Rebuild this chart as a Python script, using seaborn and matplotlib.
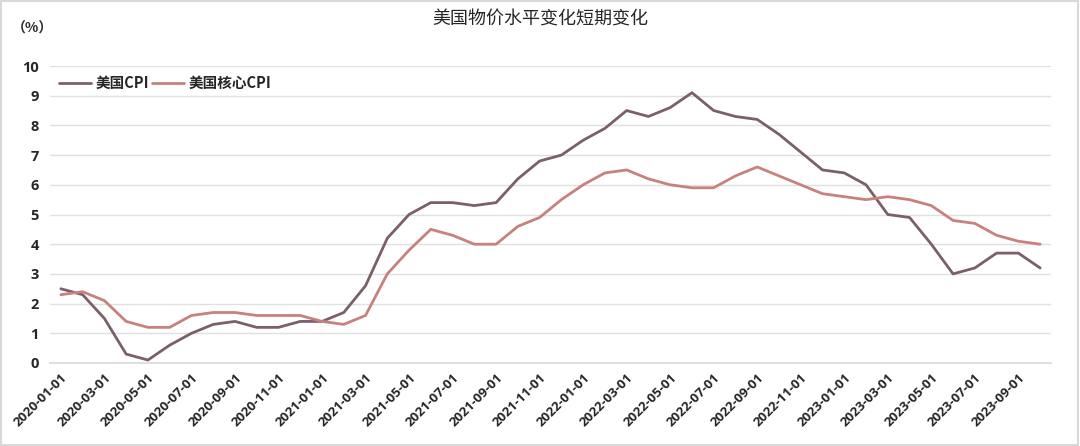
import matplotlib
matplotlib.use("Agg")
import matplotlib.pyplot as plt
import seaborn as sns
import pandas as pd
import numpy as np
from matplotlib.patches import Rectangle

dates = pd.date_range("2020-01-01", "2023-10-01", freq="MS").strftime("%Y-%m-%d").tolist()
cpi = [2.5, 2.3, 1.5, 0.3, 0.1, 0.6, 1.0, 1.3, 1.4, 1.2, 1.2, 1.4,
       1.4, 1.7, 2.6, 4.2, 5.0, 5.4, 5.4, 5.3, 5.4, 6.2, 6.8, 7.0,
       7.5, 7.9, 8.5, 8.3, 8.6, 9.1, 8.5, 8.3, 8.2, 7.7, 7.1, 6.5,
       6.4, 6.0, 5.0, 4.9, 4.0, 3.0, 3.2, 3.7, 3.7, 3.2]
core = [2.3, 2.4, 2.1, 1.4, 1.2, 1.2, 1.6, 1.7, 1.7, 1.6, 1.6, 1.6,
        1.4, 1.3, 1.6, 3.0, 3.8, 4.5, 4.3, 4.0, 4.0, 4.6, 4.9, 5.5,
        6.0, 6.4, 6.5, 6.2, 6.0, 5.9, 5.9, 6.3, 6.6, 6.3, 6.0, 5.7,
        5.6, 5.5, 5.6, 5.5, 5.3, 4.8, 4.7, 4.3, 4.1, 4.0]
series_names = ["美国CPI", "美国核心CPI"]
colors = ["#7b5f6b", "#c8817c"]
title = "美国物价水平变化短期变化"
unit = "（%）"

sns.set_theme(style="white")
plt.rcParams["font.family"] = ["Noto Sans CJK SC", "DejaVu Sans"]

n = len(dates)
df = pd.DataFrame({
    "idx": list(range(n)) * 2,
    "value": cpi + core,
    "series": [series_names[0]] * n + [series_names[1]] * n,
})

fig = plt.figure(figsize=(10.8, 4.46), dpi=100)
ax = fig.add_axes([50 / 1080, 1 - 363 / 446, (1051 - 50) / 1080, (363 - 66) / 446])

sns.lineplot(data=df, x="idx", y="value", hue="series", palette=colors,
             linewidth=2.0, ax=ax, legend=True)

ax.set_xlim(-0.5, n - 0.5)
ax.set_ylim(0, 10)
ax.set_yticks(range(0, 11))
ax.set_yticklabels([str(i) for i in range(0, 11)], fontsize=10.5, fontweight="bold",
                   family=["Open Sans", "DejaVu Sans"])
ax.grid(axis="y", color="#e0e0e0", linewidth=1.0)
ax.grid(axis="x", visible=False)
ax.set_axisbelow(True)

major = list(range(0, n, 2))
ax.set_xticks(major)
ax.set_xticklabels([dates[i] for i in major], rotation=45, ha="right",
                   rotation_mode="anchor", fontsize=9.5, fontweight="bold",
                   family=["Open Sans", "DejaVu Sans"])
ax.set_xticks(list(np.arange(-0.5, n, 2)), minor=True)
ax.tick_params(axis="x", which="major", length=0, pad=6)
ax.tick_params(axis="x", which="minor", length=6, color="#d9d9d9", width=1, direction="out")
ax.tick_params(axis="y", length=0, pad=8)
ax.set_xlabel("")
ax.set_ylabel("")

for s in ["top", "right", "left"]:
    ax.spines[s].set_visible(False)
ax.spines["bottom"].set_color("#d9d9d9")
ax.spines["bottom"].set_linewidth(1.2)

leg = ax.legend(loc="upper left", bbox_to_anchor=(0.0, 1.0), ncol=2, frameon=False,
                fontsize=10.5, handlelength=2.2, handletextpad=0.3, columnspacing=0.2,
                borderaxespad=0.2)
for t in leg.get_texts():
    t.set_fontweight("bold")

fig.text(0.5, 1 - 20 / 446, title, ha="center", va="center", fontsize=13, fontweight="medium")
fig.text(12 / 1080, 1 - 29 / 446, unit, ha="left", va="center", fontsize=10, fontweight="bold")

fig.patches.append(Rectangle((0.001, 0.002), 0.997, 0.995, transform=fig.transFigure,
                             fill=False, edgecolor="#d9d9d9", linewidth=1.5))

fig.savefig("out.png", dpi=100, facecolor="white")
